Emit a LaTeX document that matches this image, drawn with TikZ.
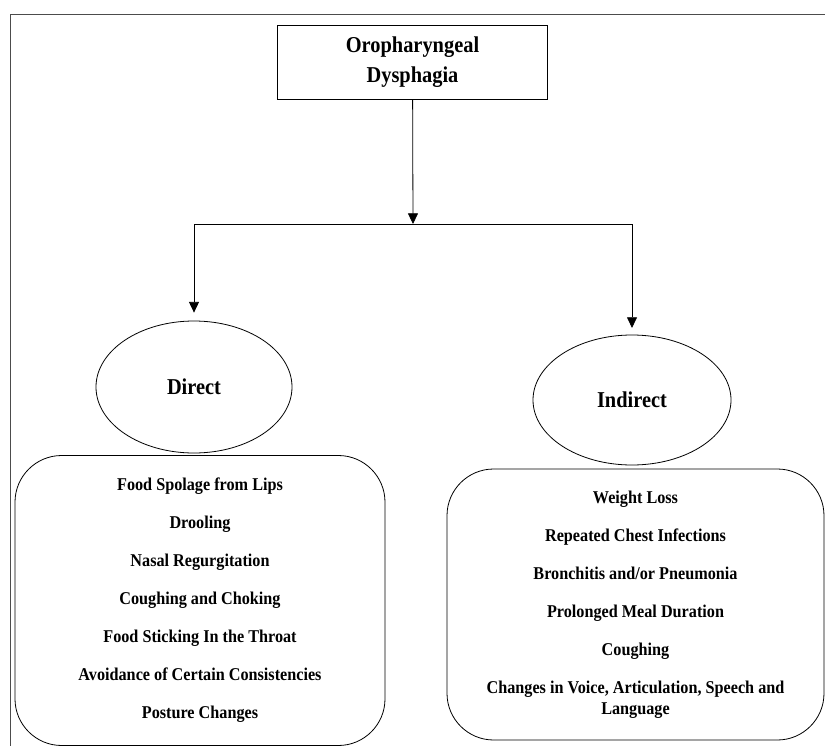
\documentclass[tikz,border=0pt]{standalone}
\usepackage{fontspec}
\setmainfont{Liberation Serif}[FakeStretch=0.9]
\usetikzlibrary{arrows.meta,shapes.geometric}

\begin{document}
\begin{tikzpicture}[x=0.75pt, y=-0.75pt, >={Triangle[length=8pt,width=7.5pt]}, line width=0.6pt]
        % ==== STYLES ====
        \tikzset{
            titlebox/.style={draw, minimum width=203pt, minimum height=55.5pt, align=center,
                font=\fontsize{17}{23}\selectfont\bfseries},
            kind/.style={draw, ellipse, minimum width=147pt, minimum height=99pt,
                font=\fontsize{17}{20}\selectfont\bfseries},
            signs/.style={draw, rounded corners=35pt, align=center,
                font=\fontsize{13.5}{15.75}\selectfont\bfseries}
        }

        % ==== DEFINITIONS ====
        \def\gap{12.75pt} % extra space between two signs

        \useasboundingbox (0,0) rectangle (825,746);

        % ==== FRAME ====
        \draw[black!70] (10,746) -- (10,14) -- (825,14);

        % ==== TOP BOX ====
        \node[titlebox] (dys) at (412.5,62) {Oropharyngeal\\Dysphagia};

        % ==== DIRECT AND INDIRECT ====
        \node[kind] (direct) at (194,387) {Direct};
        \node[kind, minimum width=148.5pt, minimum height=97.5pt] (indirect) at (632,400) {Indirect};

        % ==== SPLIT LINE ====
        \coordinate (jn) at (413,224);
        \coordinate (lc) at (194,224);
        \coordinate (rc) at (632,224);
        \draw (lc) -- (rc);
        \draw[->] (dys) -- (jn);
        \draw[->, shorten >=6pt] (lc) -- (direct);
        \draw[->, shorten >=5pt] (rc) -- (indirect);

        % ==== SIGNS ====
        \node[signs, minimum width=277.5pt, minimum height=217.5pt] (dsigns) at (200,600.5) {%
            Food Spolage from Lips\\[\gap]
            Drooling\\[\gap]
            Nasal Regurgitation\\[\gap]
            Coughing and Choking\\[\gap]
            Food Sticking In the Throat\\[\gap]
            Avoidance of Certain Consistencies\\[\gap]
            Posture Changes};
        \node[signs, minimum width=282.75pt, minimum height=203.25pt] (isigns) at (635.5,604.5) {%
            Weight Loss\\[\gap]
            Repeated Chest Infections\\[\gap]
            Bronchitis and/or Pneumonia\\[\gap]
            Prolonged Meal Duration\\[\gap]
            Coughing\\[\gap]
            Changes in Voice, Articulation, Speech and\\
            Language};
    \end{tikzpicture}
\end{document}
